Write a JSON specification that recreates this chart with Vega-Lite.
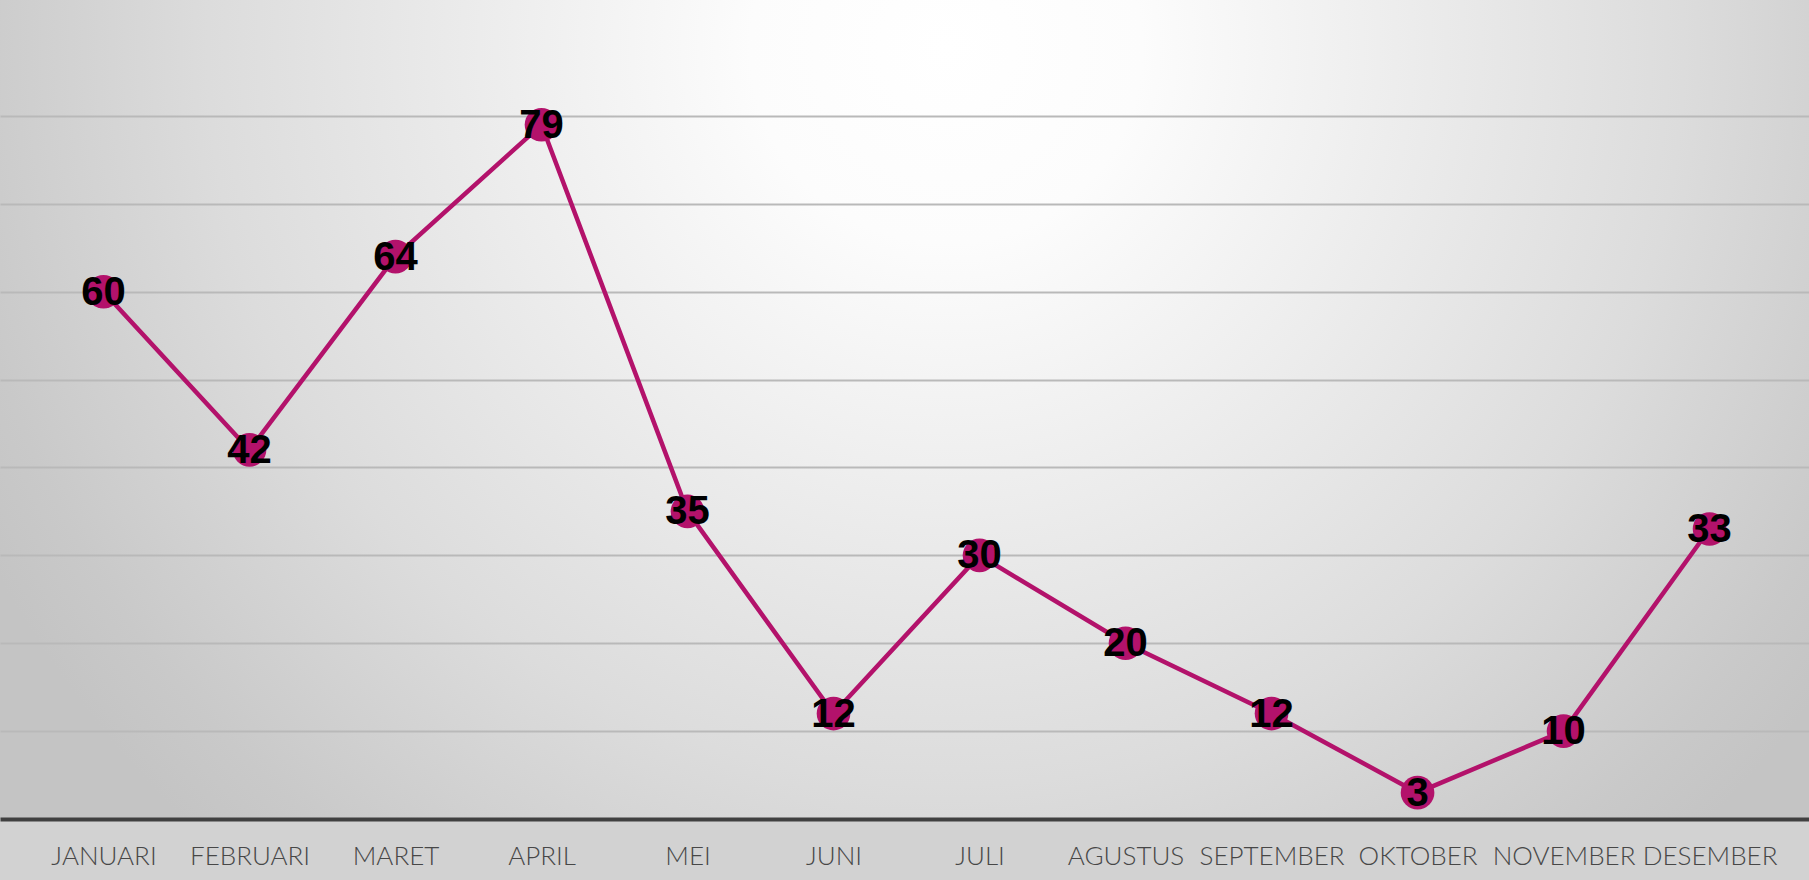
{
  "$schema": "https://vega.github.io/schema/vega-lite/v6.json",
  "width": 1809,
  "height": 819,
  "padding": {"left": 0, "right": 0, "top": 0, "bottom": 14},
  "autosize": {"type": "pad"},
  "background": "#d2d2d2",
  "config": {
    "view": {
      "stroke": null,
      "fill": {
        "gradient": "radial",
        "x1": 0.523, "y1": 0.3, "r1": 0,
        "x2": 0.523, "y2": 0.3, "r2": 0.6,
        "stops": [
          {"offset": 0, "color": "#ffffff"},
          {"offset": 0.18, "color": "#fcfcfc"},
          {"offset": 0.68, "color": "#dcdcdc"},
          {"offset": 0.92, "color": "#c9c9c9"},
          {"offset": 1, "color": "#c4c4c4"}
        ]
      }
    }
  },
  "data": {
    "values": [
      {"bulan": "JANUARI", "nilai": 60},
      {"bulan": "FEBRUARI", "nilai": 42},
      {"bulan": "MARET", "nilai": 64},
      {"bulan": "APRIL", "nilai": 79},
      {"bulan": "MEI", "nilai": 35},
      {"bulan": "JUNI", "nilai": 12},
      {"bulan": "JULI", "nilai": 30},
      {"bulan": "AGUSTUS", "nilai": 20},
      {"bulan": "SEPTEMBER", "nilai": 12},
      {"bulan": "OKTOBER", "nilai": 3},
      {"bulan": "NOVEMBER", "nilai": 10},
      {"bulan": "DESEMBER", "nilai": 33}
    ]
  },
  "encoding": {
    "x": {
      "field": "bulan",
      "type": "nominal",
      "sort": null,
      "scale": {"type": "point", "padding": 0.695, "align": 0.51},
      "axis": {
        "title": null,
        "labelAngle": 0,
        "labelFont": "Lato",
        "labelFontWeight": 300,
        "labelFontSize": 26,
        "labelColor": "#474747",
        "labelPadding": 24,
        "ticks": false,
        "tickSize": 0,
        "domain": true,
        "domainColor": "#404040",
        "domainWidth": 4,
        "grid": false
      }
    },
    "y": {
      "field": "nilai",
      "type": "quantitative",
      "scale": {"domain": [0, 93.2], "nice": false, "zero": true},
      "axis": {
        "title": null,
        "labels": false,
        "ticks": false,
        "domain": false,
        "grid": true,
        "values": [10, 20, 30, 40, 50, 60, 70, 80],
        "gridColor": "#b9b9b9",
        "gridWidth": 2
      }
    }
  },
  "layer": [
    {"mark": {"type": "line", "color": "#b3126b", "strokeWidth": 4.5}},
    {"mark": {"type": "point", "shape": "circle", "filled": true, "color": "#b3126b", "opacity": 1, "size": 1134}},
    {
      "mark": {"type": "text", "font": "Liberation Sans", "fontWeight": "bold", "fontSize": 40, "color": "#000000", "align": "center", "baseline": "middle", "dy": 1},
      "encoding": {"text": {"field": "nilai", "type": "quantitative"}}
    }
  ]
}
